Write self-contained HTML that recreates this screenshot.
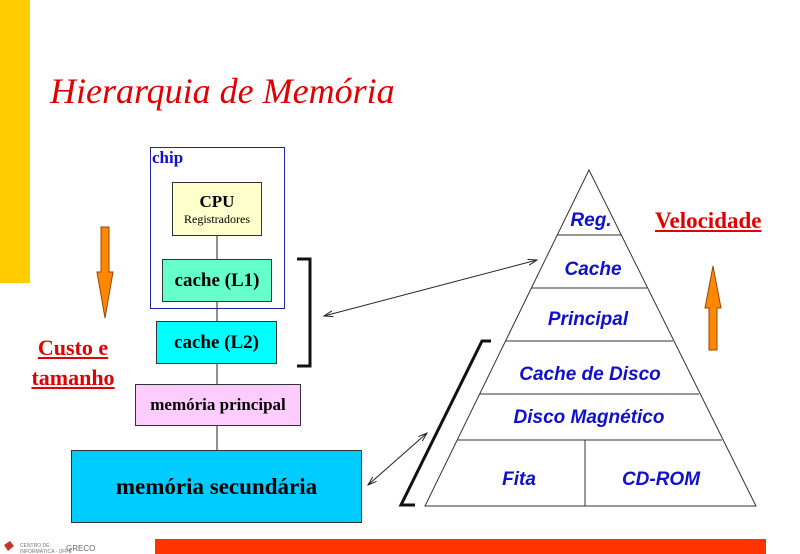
<!DOCTYPE html>
<html><head><meta charset="utf-8"><style>
body{margin:0;width:800px;height:554px;background:#fff;position:relative;overflow:hidden;font-family:"Liberation Serif",serif}
.a{position:absolute}
.b{position:absolute;border:1px solid #333;box-sizing:border-box;display:flex;align-items:center;justify-content:center;font-weight:bold;text-align:center;white-space:nowrap}
</style></head><body>
<div class="a" style="left:0;top:0;width:30px;height:283px;background:#ffcc00"></div>
<div class="a" style="left:50px;top:70px;font-size:36px;font-style:italic;color:#e00000;white-space:nowrap">Hierarquia de Memória</div>
<div class="a" style="left:150px;top:147px;width:135px;height:162px;border:1px solid #2222aa;box-sizing:border-box"></div>
<div class="a" style="left:152px;top:148px;font-size:17px;font-weight:bold;color:#1010d0">chip</div>
<svg class="a" style="left:0;top:0" width="800" height="554">
<line x1="217" y1="235" x2="217" y2="450" stroke="#222" stroke-width="1"/>
</svg>
<div class="b" style="left:172px;top:182px;width:90px;height:54px;background:#ffffcc;flex-direction:column;line-height:1.2"><span style="font-size:17px">CPU</span><span style="font-size:12px;font-weight:normal">Registradores</span></div>
<div class="b" style="left:162px;top:259px;width:110px;height:43px;background:#66ffcc;font-size:19px">cache (L1)</div>
<div class="b" style="left:156px;top:321px;width:121px;height:43px;background:#00ffff;font-size:19px">cache (L2)</div>
<div class="b" style="left:135px;top:384px;width:166px;height:42px;background:#ffccff;font-size:17px">memória principal</div>
<div class="b" style="left:71px;top:450px;width:291px;height:73px;background:#00ccff;font-size:23px">memória secundária</div>
<div class="a" style="left:15px;top:333px;width:116px;text-align:center;font-size:22px;font-weight:bold;color:#e00000;text-decoration:underline;line-height:30px">Custo e<br>tamanho</div>
<div class="a" style="left:655px;top:208px;font-size:23px;font-weight:bold;color:#e00000;text-decoration:underline;white-space:nowrap">Velocidade</div>
<svg class="a" style="left:0;top:0" width="800" height="554">
<defs><marker id="m" markerWidth="10" markerHeight="8" refX="9" refY="4" orient="auto-start-reverse"><path d="M0,1 L9,4 L0,7" fill="none" stroke="#222" stroke-width="1"/></marker></defs>
<polygon points="101,227 109,227 109,272 113,272 105,318 97,272 101,272" fill="#ff8800" stroke="#994400" stroke-width="1"/>
<polygon points="709,350 717,350 717,308 721,308 713,266 705,308 709,308" fill="#ff8800" stroke="#994400" stroke-width="1"/>
<polyline points="297,259 310,259 310,366 297,366" fill="none" stroke="#111" stroke-width="3"/>
<polyline points="491,341 482,341 401,505 415,505" fill="none" stroke="#111" stroke-width="3"/>
<line x1="324" y1="316" x2="537" y2="260" stroke="#222" marker-start="url(#m)" marker-end="url(#m)"/>
<line x1="368" y1="485" x2="427" y2="433" stroke="#222" marker-start="url(#m)" marker-end="url(#m)"/>
<g stroke="#333" stroke-width="1" fill="none">
<polygon points="589,170 425,506 756,506"/>
<line x1="557" y1="235" x2="621" y2="235"/>
<line x1="531" y1="288" x2="647" y2="288"/>
<line x1="505" y1="341" x2="673" y2="341"/>
<line x1="479" y1="394" x2="699" y2="394"/>
<line x1="457" y1="440" x2="722" y2="440"/>
<line x1="585" y1="440" x2="585" y2="506"/>
</g>
<g font-family="Liberation Sans,sans-serif" font-weight="bold" font-style="italic" fill="#1010cc" font-size="19" text-anchor="middle">
<text x="591" y="226">Reg.</text>
<text x="593" y="275">Cache</text>
<text x="588" y="325">Principal</text>
<text x="590" y="380">Cache de Disco</text>
<text x="589" y="423">Disco Magnético</text>
<text x="519" y="485">Fita</text>
<text x="661" y="485">CD-ROM</text>
</g>
<text x="20" y="547" font-size="5" fill="#777" font-family="Liberation Sans,sans-serif">CENTRO DE</text>
<text x="20" y="553" font-size="5" fill="#777" font-family="Liberation Sans,sans-serif">INFORMÁTICA - UFPE</text>
<text x="66" y="551" font-size="8" fill="#666" font-family="Liberation Sans,sans-serif">GRECO</text>
<path d="M4,545 l6,-4 l4,5 l-6,5z" fill="#c0392b"/>
</svg>
<div class="a" style="left:155px;top:539px;width:611px;height:15px;background:#ff3300"></div>
</body></html>
